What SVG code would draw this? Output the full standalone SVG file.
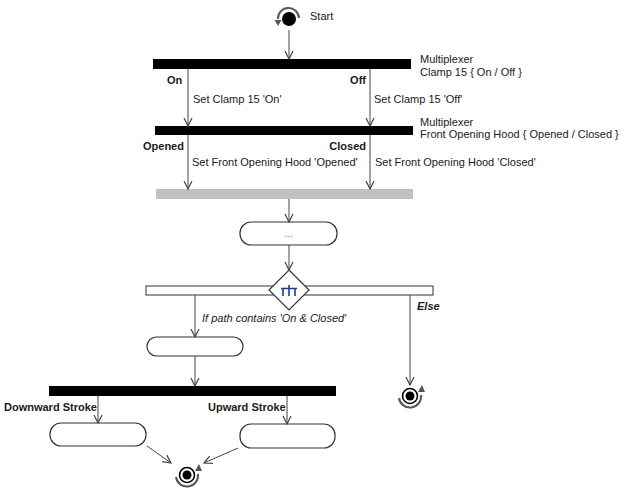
<svg xmlns="http://www.w3.org/2000/svg" width="624" height="502" viewBox="0 0 624 502">
<style>
text{font-family:"Liberation Sans",Arial,sans-serif;font-size:11px;fill:#1a1a1a}
.b{font-weight:bold}
.i{font-style:italic}
.bar{fill:#000}
.act{fill:#fff;stroke:#333;stroke-width:1.2}
.c{stroke:#444;stroke-width:1;fill:none;marker-end:url(#ah)}
.ring{fill:none;stroke:#555;stroke-width:2}
</style>
<defs>
<marker id="ah" viewBox="0 0 10 10" refX="9" refY="5" markerWidth="10" markerHeight="10" markerUnits="userSpaceOnUse" orient="auto">
<path d="M1,1 L9,5 L1,9" fill="none" stroke="#444" stroke-width="1.2"/>
</marker>
</defs>
<rect width="624" height="502" fill="#fff"/>

<g id="start">
<path class="ring" d="M299,18 A10.5,10.5 0 0 0 278,19"/>
<polygon points="274.5,20 281.5,20 278,26" fill="#555"/>
<circle cx="289" cy="19" r="7" fill="#000"/>
<text x="310" y="20">Start</text>
</g>

<g id="mux1">
<rect class="bar" x="153" y="59" width="258" height="10"/>
<text x="420" y="63">Multiplexer</text>
<text x="420" y="76">Clamp 15 { On / Off }</text>
</g>

<g id="mux2">
<rect class="bar" x="155" y="126" width="258" height="9"/>
<text x="420" y="126">Multiplexer</text>
<text x="420" y="138">Front Opening Hood { Opened / Closed }</text>
</g>

<g id="join">
<rect x="156" y="189" width="257" height="10" fill="#c0c0c0"/>
</g>

<g id="action1">
<rect class="act" x="240" y="222" width="97" height="23" rx="11"/>
<text x="289" y="237" text-anchor="middle" style="fill:#8a8a8a;font-size:10px">...</text>
</g>

<g id="decision">
<rect x="146" y="286" width="287" height="9" fill="#fff" stroke="#333" stroke-width="1"/>
<polygon points="289,270 309,290 289,310 269,290" fill="#fff" stroke="#333" stroke-width="1.2"/>
<path d="M289,285 V288 M281,288.5 H297 M283,288.5 V296 M289,288.5 V296 M295,288.5 V296" stroke="#1f3a8f" stroke-width="1.6" fill="none"/>
</g>

<g id="action2">
<rect class="act" x="147" y="337" width="96" height="19" rx="9.5"/>
</g>

<g id="end1">
<path class="ring" d="M399,398 A11,11 0 0 0 421,395"/>
<polygon points="418,392 425,392 422,385" fill="#555"/>
<circle cx="410" cy="396" r="7.5" fill="#fff" stroke="#000" stroke-width="1.6"/>
<circle cx="410" cy="396" r="4.5" fill="#000"/>
</g>

<g id="fork">
<rect class="bar" x="49" y="386" width="287" height="10"/>
</g>

<g id="action3">
<rect class="act" x="50" y="423" width="96" height="23" rx="11"/>
</g>

<g id="action4">
<rect class="act" x="240" y="424" width="95" height="24" rx="11"/>
</g>

<g id="end2">
<path class="ring" d="M176,477 A11,11 0 0 0 198,474"/>
<polygon points="195,471 202,471 199,464" fill="#555"/>
<circle cx="187" cy="475" r="7.5" fill="#fff" stroke="#000" stroke-width="1.6"/>
<circle cx="187" cy="475" r="4.5" fill="#000"/>
</g>

<g id="connectors">
<line class="c" x1="289" y1="30" x2="289" y2="59"/>
<line class="c" x1="188" y1="69" x2="188" y2="126"/>
<line class="c" x1="370" y1="69" x2="370" y2="126"/>
<line class="c" x1="188" y1="135" x2="188" y2="189"/>
<line class="c" x1="370" y1="135" x2="370" y2="189"/>
<line class="c" x1="289" y1="199" x2="289" y2="222"/>
<line class="c" x1="289" y1="245" x2="289" y2="270"/>
<line class="c" x1="195" y1="295" x2="195" y2="337"/>
<line class="c" x1="410" y1="295" x2="410" y2="385"/>
<line class="c" x1="195" y1="356" x2="195" y2="386"/>
<line class="c" x1="98" y1="396" x2="98" y2="423"/>
<line class="c" x1="287" y1="396" x2="287" y2="424"/>
<line class="c" x1="147" y1="446" x2="171" y2="463"/>
<line class="c" x1="238" y1="448" x2="204" y2="463"/>
</g>

<g id="labels">
<text class="b" x="167" y="84">On</text>
<text class="b" x="366" y="84" text-anchor="end">Off</text>
<text x="193" y="103">Set Clamp 15 'On'</text>
<text x="374" y="103">Set Clamp 15 'Off'</text>
<text class="b" x="143" y="150">Opened</text>
<text class="b" x="366" y="150" text-anchor="end">Closed</text>
<text x="192" y="166">Set Front Opening Hood 'Opened'</text>
<text x="375" y="166">Set Front Opening Hood 'Closed'</text>
<text class="i" x="202" y="322">If path contains 'On &amp; Closed'</text>
<text class="b i" x="417" y="310">Else</text>
<text class="b" x="4" y="411">Downward Stroke</text>
<text class="b" x="208" y="411">Upward Stroke</text>
</g>
</svg>
